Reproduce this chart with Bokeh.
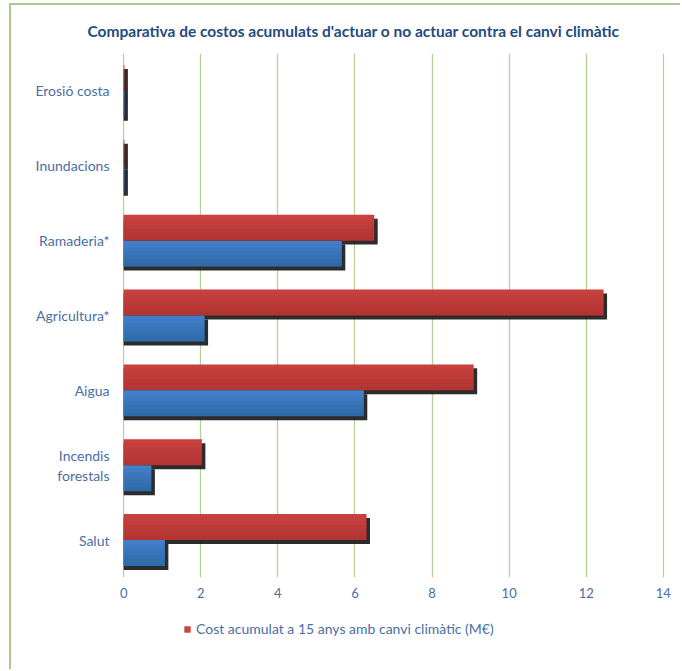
from bokeh.plotting import figure
from bokeh.layouts import column
from bokeh.models import FactorRange, Range1d, Legend, LegendItem, ColumnDataSource, FixedTicker
from bokeh.transform import dodge
from bokeh.embed import file_html
from bokeh.resources import INLINE

# ---- data ----
categories = ["Erosió costa", "Inundacions", "Ramaderia*", "Agricultura*",
              "Aigua", "Incendis\nforestals", "Salut"]
cost_with_climate_change = [0.02, 0.02, 6.5, 12.45, 9.08, 2.03, 6.3]
cost_of_acting = [0.02, 0.02, 5.66, 2.1, 6.23, 0.72, 1.07]
x_ticks = [0, 2, 4, 6, 8, 10, 12, 14]
legend_label = "Cost acumulat a 15 anys amb canvi climàtic (M€)"
title_text = "Comparativa de costos  acumulats  d'actuar  o no actuar  contra el canvi climàtic"

src = ColumnDataSource(dict(cat=categories, red=cost_with_climate_change, blue=cost_of_acting))

TEXT_BLUE = "#4a6ea6"
GRID_GREEN = "#b5d19c"
FONT = "Lato"
RED = "#cd4341"
BLUE = "#4584d0"

p = figure(width=669, height=604, output_backend="svg", toolbar_location=None,
           y_range=FactorRange(factors=categories[::-1], range_padding=0, factor_padding=0),
           x_range=Range1d(-0.03, 14.03),
           min_border_left=111, min_border_right=16, min_border_top=48, min_border_bottom=32)

p.title.text = title_text
p.title.align = "left"
p.title.offset = -35
p.title.standoff = 28
p.title.text_font = FONT
p.title.text_font_size = "15.5px"
p.title.text_font_style = "bold"
p.title.text_color = "#244a80"

BAR_H = 0.347
half = BAR_H / 2
dy = 0.053
dx = 0.09

# shadows
p.hbar(y=dodge("cat", half - dy, range=p.y_range), left=0, right=dodge("red", dx), height=BAR_H,
       source=src, fill_color="#151515", fill_alpha=0.9, line_color=None)
p.hbar(y=dodge("cat", -half - dy, range=p.y_range), left=0, right=dodge("blue", dx), height=BAR_H,
       source=src, fill_color="#151515", fill_alpha=0.9, line_color=None)

p.hbar(y=dodge("cat", half, range=p.y_range), left=0, right="red", height=BAR_H,
       source=src, fill_color=RED, line_color=None)
p.hbar(y=dodge("cat", -half, range=p.y_range), left=0, right="blue", height=BAR_H,
       source=src, fill_color=BLUE, line_color=None)

# gradient imitation: stacked translucent darker layers towards the bottom of each bar
steps = 7
for k in range(1, steps + 1):
    frac = k / steps
    for col, centre, shade in (("red", half, "#6a0e0e"), ("blue", -half, "#0b2850")):
        h = BAR_H * frac
        p.hbar(y=dodge("cat", centre - BAR_H / 2 + h / 2, range=p.y_range), left=0, right=col,
               height=h, source=src, fill_color=shade, fill_alpha=0.045, line_color=None)

p.xaxis.ticker = FixedTicker(ticks=x_ticks)
p.xgrid.grid_line_color = GRID_GREEN
p.xgrid.grid_line_width = 1.3
p.ygrid.grid_line_color = None
p.outline_line_color = None

for ax in (p.xaxis[0], p.yaxis[0]):
    ax.axis_line_color = None
    ax.major_tick_line_color = None
    ax.minor_tick_line_color = None
    ax.major_tick_out = 0
    ax.major_tick_in = 0
    ax.major_label_text_color = TEXT_BLUE
    ax.major_label_text_font = FONT
    ax.major_label_text_font_size = "14px"

p.xaxis.major_label_text_font_size = "13px"
p.xaxis.major_label_standoff = 10
p.yaxis.major_label_standoff = 13

# ---- legend strip (separate small figure so the legend is not clipped) ----
p2 = figure(width=669, height=60, output_backend="svg", toolbar_location=None,
            x_axis_type=None, y_axis_type=None, x_range=Range1d(0, 1), y_range=Range1d(0, 1),
            min_border=0, min_border_left=0, min_border_right=0, min_border_top=0, min_border_bottom=0)
p2.outline_line_color = None
p2.grid.visible = False
key = p2.hbar(y="red", left=0, right="red", height=0.1, source=src,
              fill_color=RED, line_color=None, visible=False)
legend = Legend(items=[LegendItem(label=legend_label, renderers=[key])],
                location=(61, 32), orientation="horizontal",
                glyph_width=8, glyph_height=8, label_height=14, label_standoff=5,
                padding=0, margin=0, border_line_color=None, background_fill_alpha=0,
                inactive_fill_alpha=0,
                label_text_font=FONT, label_text_font_size="14px", label_text_color=TEXT_BLUE)
p2.add_layout(legend, "center")

layout = column(p, p2, spacing=0)
layout.styles = {"border-left": "2px solid #a9c78f", "border-top": "2px solid #a9c78f",
                 "margin-left": "9px", "margin-top": "3px"}

open("out.html", "w").write(file_html(layout, INLINE))
